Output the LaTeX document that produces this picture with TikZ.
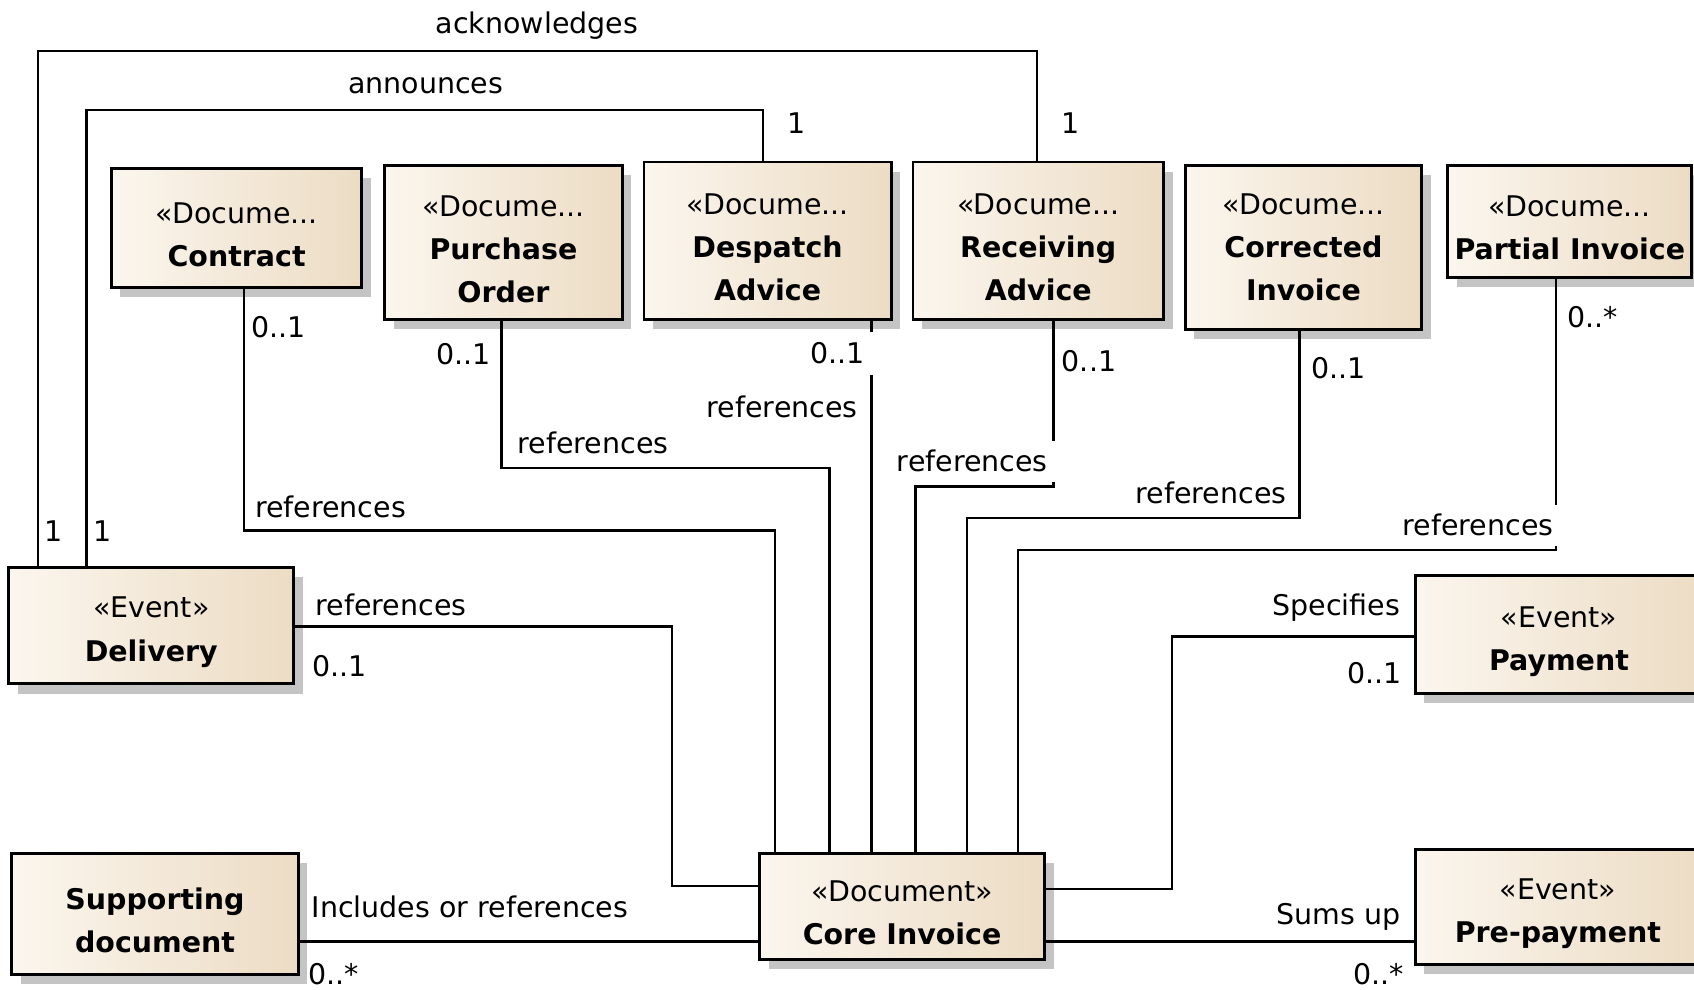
\documentclass[tikz,border=0pt]{standalone}
\usepackage{fontspec}
\setmainfont{DejaVu Sans}
\usetikzlibrary{shadows}
\definecolor{boxL}{HTML}{FBF6EE}
\definecolor{boxR}{HTML}{ECDCC4}
\definecolor{shadowgray}{HTML}{C4C4C4}
\newcommand\myStrut{\rule{0pt}{0.63cm}}
\begin{document}
\begin{tikzpicture}[x=0.02cm,y=-0.02cm,
  box/.style={draw=black, line width=1.5pt, left color=boxL, right color=boxR,
    inner sep=0pt, align=center, font=\fontsize{15}{22.7}\selectfont,
    drop shadow={shadow xshift=0.17cm, shadow yshift=-0.18cm, fill=shadowgray, opacity=1}},
  conn/.style={line width=1.3pt},
  lab/.style={font=\fontsize{15}{18}\selectfont, inner sep=0pt},
  gaplab/.style={lab, fill=white}]
\useasboundingbox (0,0) rectangle (1568,916);
\fill[white] (0,0) rectangle (1568,916);
\clip (0,0) rectangle (1568,916);

% boxes
\node[box, minimum width=4.64cm, minimum height=2.2cm] (contract) at (219,211) {\myStrut«Docume...\\\textbf{Contract}};
\node[box, minimum width=4.4cm, minimum height=2.86cm] (purchase) at (466,224.5) {\myStrut«Docume...\\\textbf{Purchase}\\\textbf{Order}};
\node[box, minimum width=4.58cm, minimum height=2.92cm] (despatch) at (710.5,223) {\myStrut«Docume...\\\textbf{Despatch}\\\textbf{Advice}};
\node[box, minimum width=4.64cm, minimum height=2.92cm] (receiving) at (961,223) {\myStrut«Docume...\\\textbf{Receiving}\\\textbf{Advice}};
\node[box, minimum width=4.38cm, minimum height=3.04cm] (corrected) at (1206.5,229) {«Docume...\\\textbf{Corrected}\\\textbf{Invoice}};
\node[box, minimum width=4.52cm, minimum height=2.08cm] (partial) at (1453,205) {\myStrut«Docume...\\\textbf{Partial Invoice}};
\node[box, minimum width=5.28cm, minimum height=2.16cm] (delivery) at (140,579) {\myStrut«Event»\\\textbf{Delivery}};
\node[box, minimum width=5.32cm, minimum height=2.18cm] (payment) at (1443,587.5) {\myStrut«Event»\\\textbf{Payment}};
\node[box, minimum width=5.3cm, minimum height=2.24cm] (supporting) at (143.5,846) {\myStrut\textbf{Supporting}\\\textbf{document}};
\node[box, minimum width=5.28cm, minimum height=1.96cm] (core) at (835,839) {\myStrut«Document»\\\textbf{Core Invoice}};
\node[box, minimum width=5.28cm, minimum height=2.14cm] (prepay) at (1442,839.5) {\myStrut«Event»\\\textbf{Pre-payment}};

% bend points
\coordinate (a1) at (35,47);     \coordinate (a2) at (960,47);
\coordinate (b1) at (80,102);    \coordinate (b2) at (706,102);
\coordinate (c1) at (226,491);   \coordinate (c2) at (717.5,491);
\coordinate (d1) at (464,433);   \coordinate (d2) at (767.6,433);
\coordinate (e1) at (806.7,500);
\coordinate (f1) at (975,450.5); \coordinate (f2) at (847.6,450.5);
\coordinate (g1) at (1203,479.6);\coordinate (g2) at (895.3,479.6);
\coordinate (h1) at (1440,509);  \coordinate (h2) at (942.3,509);
\coordinate (i1) at (622,580);   \coordinate (i2) at (622,820);
\coordinate (j1) at (1084.6,589);\coordinate (j2) at (1084.6,823);
\coordinate (k1) at (500,871.6);

% connectors
\draw[conn] (delivery.north -| a1) -- (a1) -- (a2) -- (receiving.north -| a2);
\draw[conn] (delivery.north -| b1) -- (b1) -- (b2) -- (despatch.north -| b2);
\draw[conn] (contract.south -| c1) -- (c1) -- (c2) -- (core.north -| c2);
\draw[conn] (purchase.south -| d1) -- (d1) -- (d2) -- (core.north -| d2);
\draw[conn] (despatch.south -| e1) -- (core.north -| e1);
\draw[conn] (receiving.south -| f1) -- (f1) -- (f2) -- (core.north -| f2);
\draw[conn] (corrected.south -| g1) -- (g1) -- (g2) -- (core.north -| g2);
\draw[conn] (partial.south -| h1) -- (h1) -- (h2) -- (core.north -| h2);
\draw[conn] (delivery.east |- i1) -- (i1) -- (i2) -- (core.west |- i2);
\draw[conn] (payment.west |- j1) -- (j1) -- (j2) -- (core.east |- j2);
\draw[conn] (supporting.east |- k1) -- (core.west |- k1);
\draw[conn] (core.east |- k1) -- (prepay.west |- k1);

% labels
\node[lab] (t1) at (497,24) {acknowledges};
\node[lab] (t2) at (394,79) {announces};
\node[lab] (t3) at (737,114) {1};
\node[lab] (t4) at (991,114) {1};
\node[lab] (t5) at (258,303) {0..1};
\node[lab] (t6) at (429,328) {0..1};
\node[gaplab, minimum width=1.36cm, minimum height=0.8cm] (t7) at (775,327) {0..1};
\node[lab] (t8) at (1008,334) {0..1};
\node[lab] (t9) at (1239,341) {0..1};
\node[lab] (t10) at (1474,294) {0..*};
\node[lab] (t11) at (306,469) {references};
\node[lab] (t12) at (549,410) {references};
\node[lab] (t13) at (724,377) {references};
\node[gaplab, minimum width=3.08cm, minimum height=0.76cm] (t14) at (900,427) {references};
\node[lab] (t15) at (1121,456) {references};
\node[gaplab, minimum width=2.96cm, minimum height=0.76cm] (t16) at (1368,486) {references};
\node[lab] (t17) at (50,492) {1};
\node[lab] (t18) at (95,492) {1};
\node[lab] (t19) at (362,560) {references};
\node[lab] (t20) at (314,617) {0..1};
\node[lab] (t21) at (1237,562) {Specifies};
\node[lab] (t22) at (1272,623) {0..1};
\node[lab] (t23) at (435,839) {Includes or references};
\node[lab] (t24) at (309,902) {0..*};
\node[lab] (t25) at (1239,849) {Sums up};
\node[lab] (t26) at (1276,902) {0..*};
\end{tikzpicture}
\end{document}
